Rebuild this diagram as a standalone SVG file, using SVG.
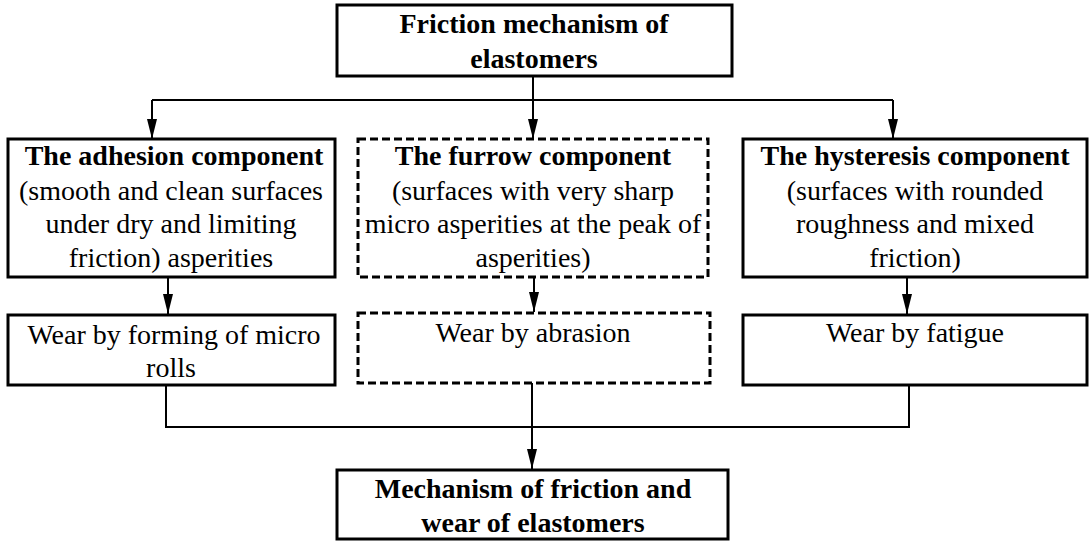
<svg xmlns="http://www.w3.org/2000/svg" width="1089" height="541" viewBox="0 0 1089 541">
<style>
.box{fill:#fff;stroke:#000;stroke-width:3}
.dash{fill:#fff;stroke:#000;stroke-width:3;stroke-dasharray:8 4}
text{font-family:'Liberation Serif','Times New Roman','DejaVu Serif',serif;font-size:28px;fill:#000;text-anchor:middle}
.b{font-weight:bold}
.c{fill:none;stroke:#000;stroke-width:2}
</style>
<defs>
<marker id="arr" viewBox="0 0 20 10" refX="20" refY="5" markerWidth="20" markerHeight="10" markerUnits="userSpaceOnUse" orient="auto">
<path d="M0,0 L20,5 L0,10 Z" fill="#000"/>
</marker>
</defs>
<g id="connectors">
<path class="c" d="M533,76 V139" marker-end="url(#arr)"/>
<path class="c" d="M152,100 H893"/>
<path class="c" d="M152,100 V139" marker-end="url(#arr)"/>
<path class="c" d="M893,100 V139" marker-end="url(#arr)"/>
<path class="c" d="M168,277 V314" marker-end="url(#arr)"/>
<path class="c" d="M534,277 V312" marker-end="url(#arr)"/>
<path class="c" d="M907,277 V314" marker-end="url(#arr)"/>
<path class="c" d="M166,385 V427 H909 V385"/>
<path class="c" d="M532,383 V469" marker-end="url(#arr)"/>
</g>
<g id="top">
<rect class="box" x="337" y="5" width="395" height="71"/>
<text class="b" x="534" y="33">Friction mechanism of</text>
<text class="b" x="534" y="68">elastomers</text>
</g>
<g id="adhesion">
<rect class="box" x="8" y="139" width="327" height="138"/>
<text class="b" x="174" y="165">The adhesion component</text>
<text x="171" y="200">(smooth and clean surfaces</text>
<text x="171" y="233">under dry and limiting</text>
<text x="171" y="267">friction) asperities</text>
</g>
<g id="furrow">
<rect class="dash" x="358" y="139" width="350" height="138"/>
<text class="b" x="533" y="165">The furrow component</text>
<text x="533" y="200">(surfaces with very sharp</text>
<text x="533" y="233">micro asperities at the peak of</text>
<text x="533" y="267">asperities)</text>
</g>
<g id="hysteresis">
<rect class="box" x="743" y="139" width="344" height="138"/>
<text class="b" x="915" y="165">The hysteresis component</text>
<text x="915" y="200">(surfaces with rounded</text>
<text x="915" y="233">roughness and mixed</text>
<text x="915" y="267">friction)</text>
</g>
<g id="wear-micro-rolls">
<rect class="box" x="8" y="315" width="327" height="70"/>
<text x="174" y="344">Wear by forming of micro</text>
<text x="171" y="377">rolls</text>
</g>
<g id="wear-abrasion">
<rect class="dash" x="358" y="313" width="352" height="70"/>
<text x="533" y="342">Wear by abrasion</text>
</g>
<g id="wear-fatigue">
<rect class="box" x="743" y="315" width="344" height="70"/>
<text x="915" y="342">Wear by fatigue</text>
</g>
<g id="result">
<rect class="box" x="337" y="470" width="391" height="69"/>
<text class="b" x="533" y="498">Mechanism of friction and</text>
<text class="b" x="533" y="532">wear of elastomers</text>
</g>
</svg>
